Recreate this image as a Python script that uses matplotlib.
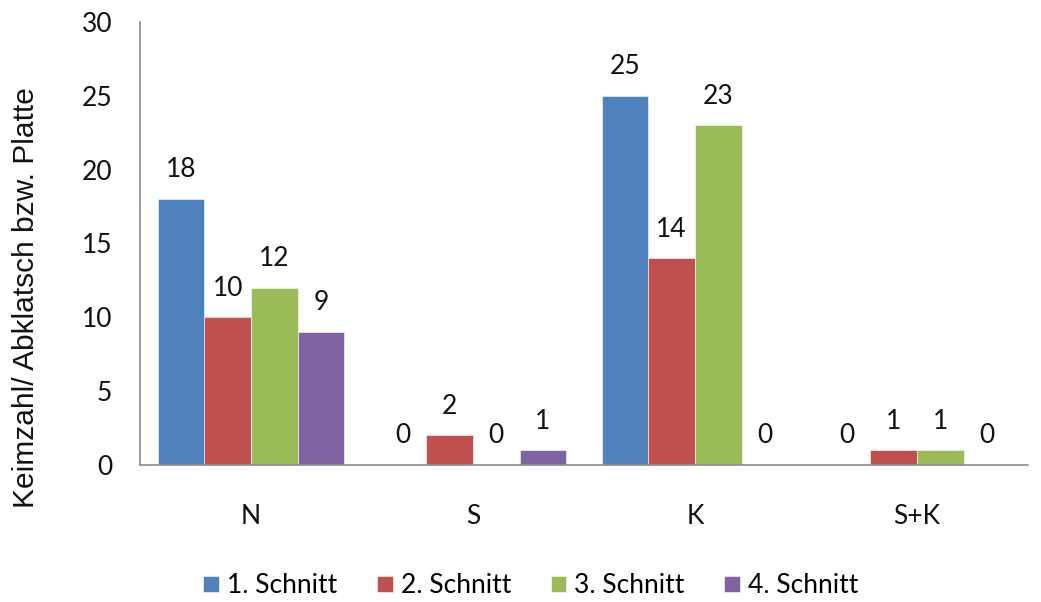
import matplotlib
matplotlib.use("Agg")
import matplotlib.pyplot as plt
import numpy as np

categories = ["N", "S", "K", "S+K"]
series_names = ["1. Schnitt", "2. Schnitt", "3. Schnitt", "4. Schnitt"]
schnitt_1 = [18, 0, 25, 0]
schnitt_2 = [10, 2, 14, 1]
schnitt_3 = [12, 0, 23, 1]
schnitt_4 = [9, 1, 0, 0]
colors = ["#4F81BD", "#C0504D", "#9BBB59", "#8064A2"]

num_font = "Lato"
fig = plt.figure(figsize=(10.41, 6.02), dpi=100)
ax = fig.add_axes([0.1345, 0.2276, 0.853, 0.736])

x = np.arange(len(categories))
width = 0.21
all_series = [schnitt_1, schnitt_2, schnitt_3, schnitt_4]
for i, (vals, name, c) in enumerate(zip(all_series, series_names, colors)):
    pos = x + (i - 1.5) * width
    ax.bar(pos, vals, width, color=c, label=name, edgecolor="white", linewidth=0.4)
    for p, v in zip(pos, vals):
        ax.annotate(str(v), (p, v), xytext=(0, 12), textcoords="offset points",
                    ha="center", va="bottom", fontsize=19, family=num_font, color="#111111")

ax.set_xlim(-0.5, 3.5)
ax.set_ylim(0, 30)
ax.set_yticks(range(0, 31, 5))
ax.set_xticks(x)
ax.set_xticklabels(categories)
ax.tick_params(axis="both", length=0, labelsize=19, colors="#111111")
ax.tick_params(axis="x", pad=28)
ax.tick_params(axis="y", pad=20)
for lab in ax.get_xticklabels() + ax.get_yticklabels():
    lab.set_family(num_font)
for s in ["top", "right"]:
    ax.spines[s].set_visible(False)
for s in ["left", "bottom"]:
    ax.spines[s].set_color("#8c8c8c")
    ax.spines[s].set_linewidth(1.2)

ax.set_ylabel("Keimzahl/ Abklatsch bzw. Platte", fontsize=21.5, family="Liberation Sans",
              color="#111111")
ax.yaxis.set_label_coords(-0.113, 0.377)

fig.legend(loc="center", bbox_to_anchor=(0.51, 0.027), ncol=4, frameon=False,
           prop={"family": num_font, "size": 19}, handlelength=0.6, handleheight=0.6,
           handletextpad=0.3, columnspacing=1.5)

fig.savefig("out.png", dpi=100)
